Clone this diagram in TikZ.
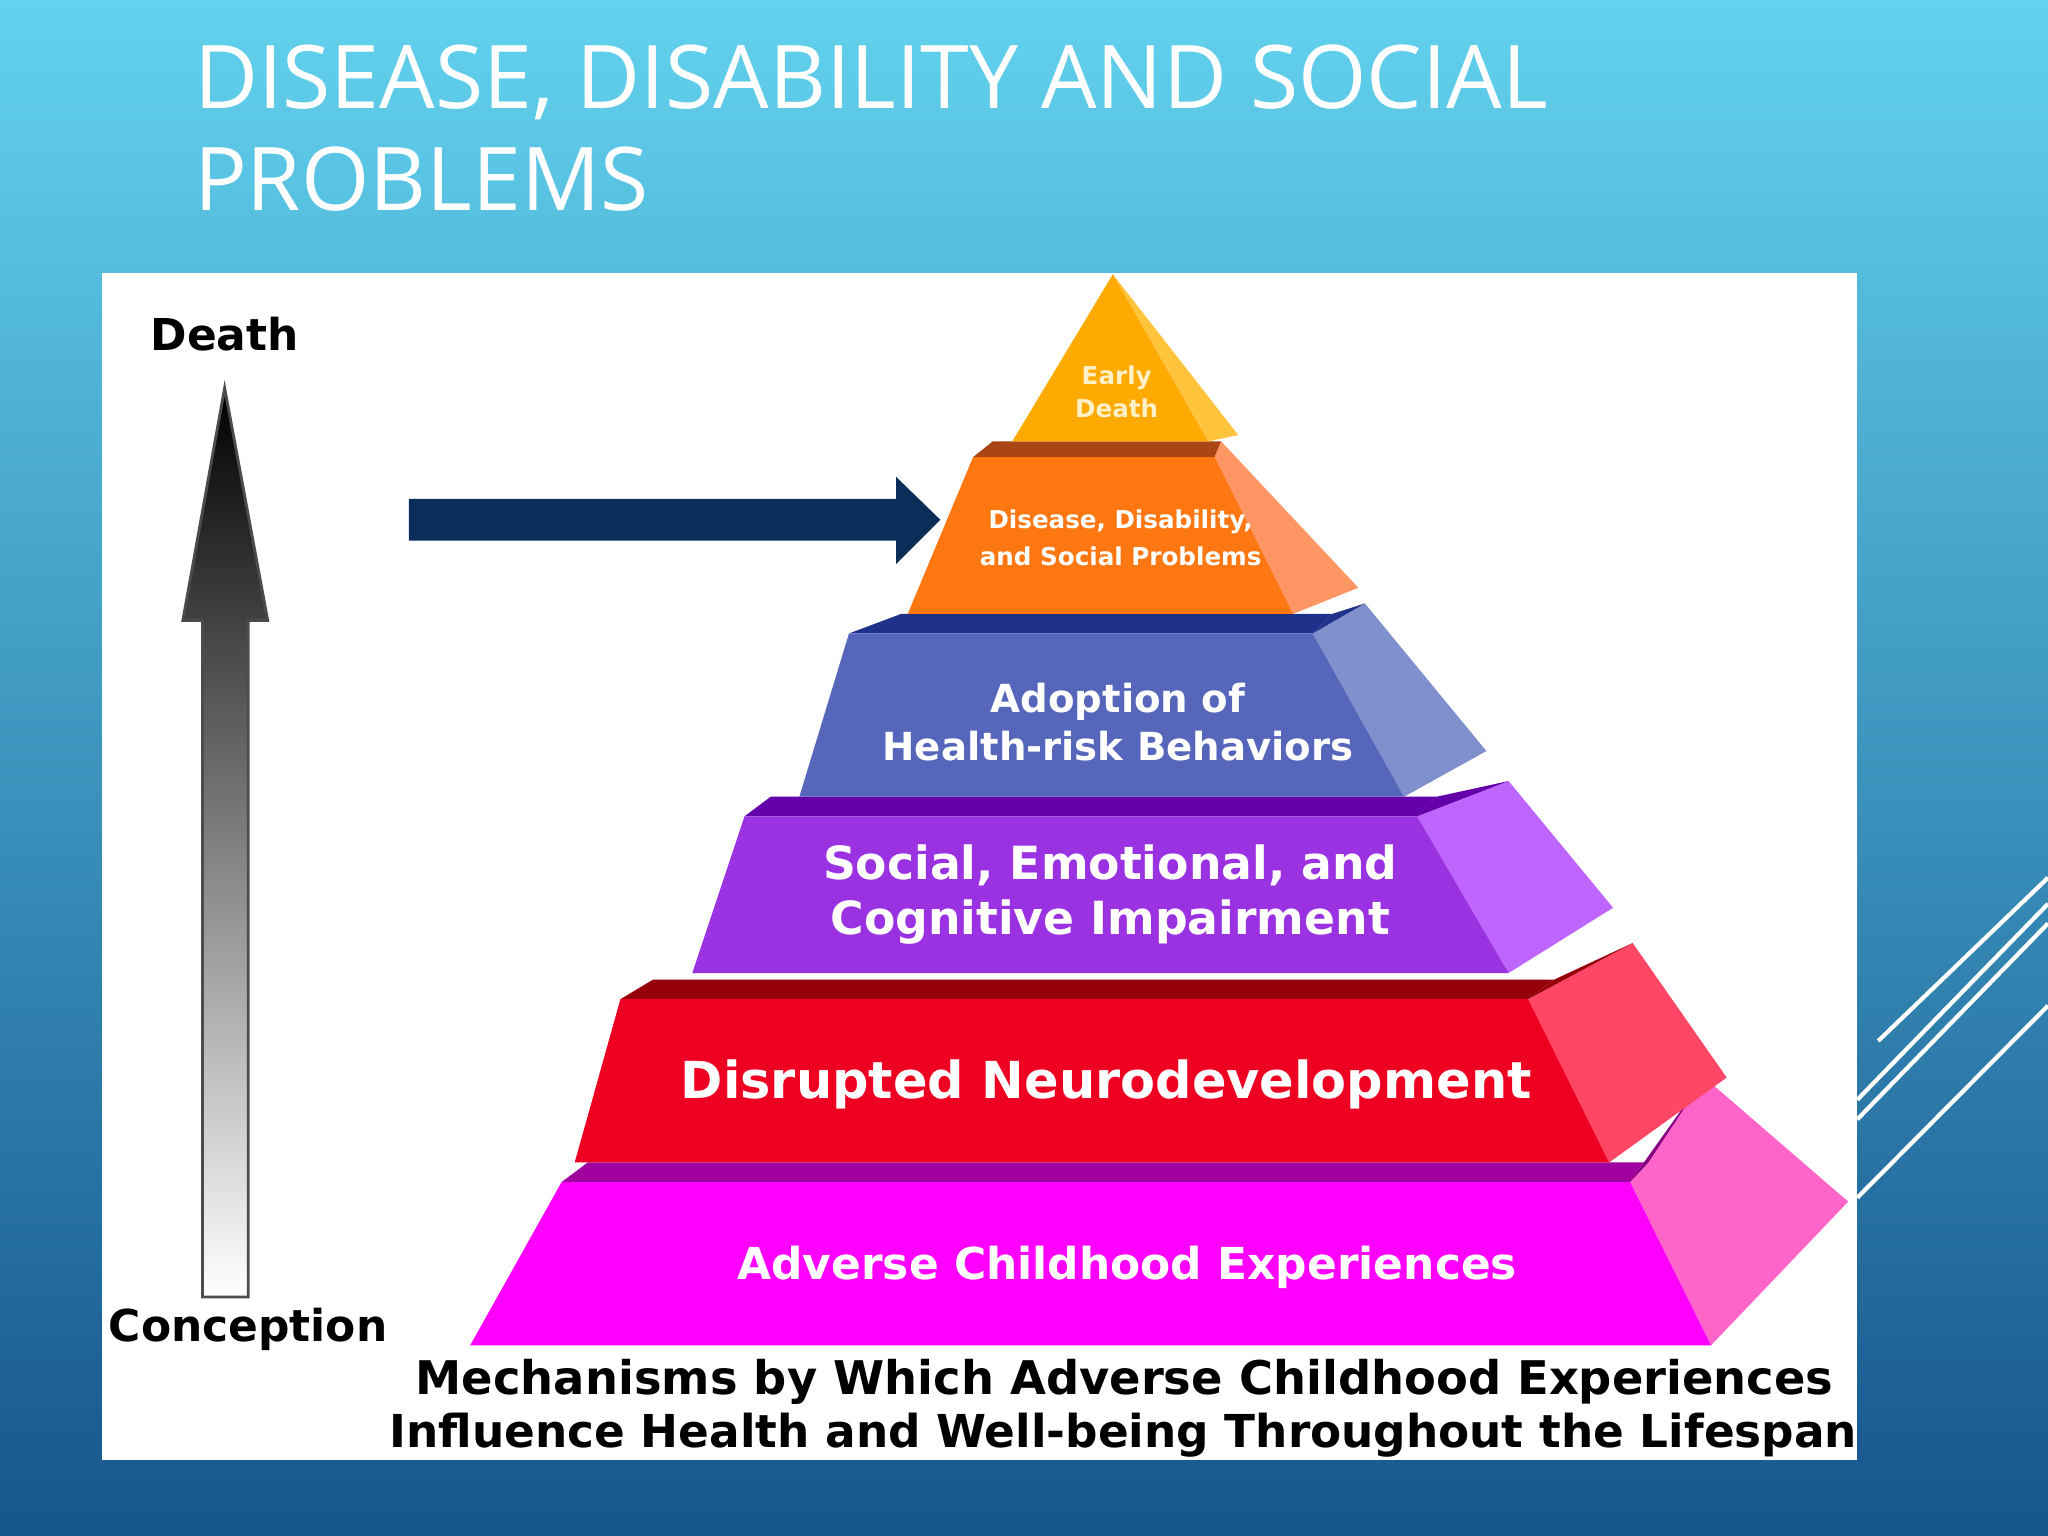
\documentclass[tikz,border=0pt]{standalone}
\usepackage{fontspec}
\setmainfont{Open Sans}
\newfontfamily\vb{DejaVu Sans}
\definecolor{bgtop}{RGB}{98,210,238}
\definecolor{bgbot}{RGB}{22,85,140}
\definecolor{aS}{RGB}{160,0,160}\definecolor{aR}{RGB}{255,100,200}\definecolor{aD}{RGB}{130,0,130}\definecolor{aF}{RGB}{255,0,255}
\definecolor{bS}{RGB}{150,0,10}\definecolor{bR}{RGB}{255,70,100}\definecolor{bF}{RGB}{238,0,34}
\definecolor{cS}{RGB}{100,0,170}\definecolor{cR}{RGB}{190,100,255}\definecolor{cF}{RGB}{155,50,225}
\definecolor{dS}{RGB}{30,50,140}\definecolor{dR}{RGB}{128,144,205}\definecolor{dF}{RGB}{85,102,187}
\definecolor{eS}{RGB}{170,70,20}\definecolor{eR}{RGB}{255,150,100}\definecolor{eF}{RGB}{255,119,17}
\definecolor{fR}{RGB}{255,195,60}\definecolor{fF}{RGB}{255,170,0}
\definecolor{navy}{RGB}{10,45,90}
\begin{document}
\begin{tikzpicture}[x=0.013061cm,y=-0.013061cm,
  tiertxt/.style={text=white,font=\vb\bfseries,align=center,inner sep=0},
  captxt/.style={text=black,font=\vb\bfseries,inner sep=0}]
\useasboundingbox (0,0) rectangle (1568,1176);
\shade[top color=bgtop, bottom color=bgbot] (0,0) rectangle (1568,1176);
\foreach \a/\b/\c/\d in {1438/797/1568/672, 1422/842/1568/692, 1422/857/1568/707, 1422/917/1568/770}
  \draw[white,line width=1.2pt] (\a,\b) -- (\c,\d);
\fill[white] (78,209) rectangle (1422,1118);
\node[text=white,anchor=west,inner sep=0,font=\fontsize{25}{30}\selectfont,align=left] (title) at (148,98) {DISEASE, DISABILITY AND SOCIAL\\[-1pt]PROBLEMS};
% tier 1
\fill[aS] (430,905)--(450,890)--(1262,890)--(1248,905)--cycle;
\fill[aR] (1248,905)--(1305,825)--(1415,920)--(1310,1030)--cycle;
\fill[aD] (1248,905)--(1262,890)--(1305,825)--cycle;
\fill[aF] (360,1030)--(430,905)--(1248,905)--(1310,1030)--cycle;
% tier 2
\fill[bS] (475,765)--(500,750)--(1190,750)--(1170,765)--cycle;
\fill[bR] (1170,765)--(1250,722)--(1322,825)--(1232,890)--cycle;
\fill[bS] (1170,765)--(1190,750)--(1250,722)--cycle;
\fill[bF] (440,890)--(475,765)--(1170,765)--(1232,890)--cycle;
% tier 3
\fill[cS] (570,625)--(590,610)--(1100,610)--(1085,625)--cycle;
\fill[cR] (1085,625)--(1155,598)--(1235,695)--(1155,745)--cycle;
\fill[cS] (1085,625)--(1100,610)--(1155,598)--cycle;
\fill[cF] (530,745)--(570,625)--(1085,625)--(1155,745)--cycle;
% tier 4
\fill[dS] (650,485)--(690,470)--(1020,470)--(1005,485)--cycle;
\fill[dR] (1005,485)--(1045,462)--(1138,575)--(1075,610)--cycle;
\fill[dS] (1005,485)--(1020,470)--(1045,462)--cycle;
\fill[dF] (612,610)--(650,485)--(1005,485)--(1075,610)--cycle;
% tier 5
\fill[eS] (745,350)--(760,338)--(935,338)--(930,350)--cycle;
\fill[eR] (930,350)--(935,338)--(1040,450)--(990,470)--cycle;
\fill[eF] (695,470)--(745,350)--(930,350)--(990,470)--cycle;
% tier 6
\fill[fR] (852,210)--(948,333)--(925,338)--cycle;
\fill[fF] (775,338)--(852,210)--(925,338)--cycle;
% texts
\node[tiertxt,text={rgb,255:red,255;green,240;blue,200},font=\vb\bfseries\fontsize{7}{9.5}\selectfont] (t6) at (855,300) {Early\\Death};
\node[tiertxt,font=\vb\bfseries\fontsize{7}{10.5}\selectfont] (t5) at (858,412) {Disease, Disability,\\and Social Problems};
\node[tiertxt,font=\vb\bfseries\fontsize{11}{13.5}\selectfont] (t4) at (856,553) {Adoption of\\Health-risk Behaviors};
\node[tiertxt,font=\vb\bfseries\fontsize{13}{15.5}\selectfont] (t3) at (850,685) {Social, Emotional, and\\Cognitive Impairment};
\node[tiertxt,font=\vb\bfseries\fontsize{14.5}{17}\selectfont] (t2) at (847,830) {Disrupted Neurodevelopment};
\node[tiertxt,font=\vb\bfseries\fontsize{12.5}{17}\selectfont] (t1) at (863,970) {Adverse Childhood Experiences};
\node[captxt,font=\vb\bfseries\fontsize{13.2}{14}\selectfont] (c1) at (861,1058) {Mechanisms by Which Adverse Childhood Experiences};
\node[captxt,font=\vb\bfseries\fontsize{12.9}{14}\selectfont] (c2) at (860,1099) {Influence Health and Well-being Throughout the Lifespan};
% navy arrow
\fill[navy] (313,382)--(686,382)--(686,365)--(720,398)--(686,432)--(686,414)--(313,414)--cycle;
% gradient arrow
\shade[top color=black, bottom color=white, draw=black!70, line width=0.8pt] (155,993)--(155,475)--(140,475)--(172,297)--(205,475)--(190,475)--(190,993)--cycle;
\node[captxt,font=\vb\bfseries\fontsize{12.5}{14}\selectfont] (death) at (172,256) {Death};
\node[captxt,font=\vb\bfseries\fontsize{12.5}{14}\selectfont] (conc) at (190,1018) {Conception};
\end{tikzpicture}
\end{document}
